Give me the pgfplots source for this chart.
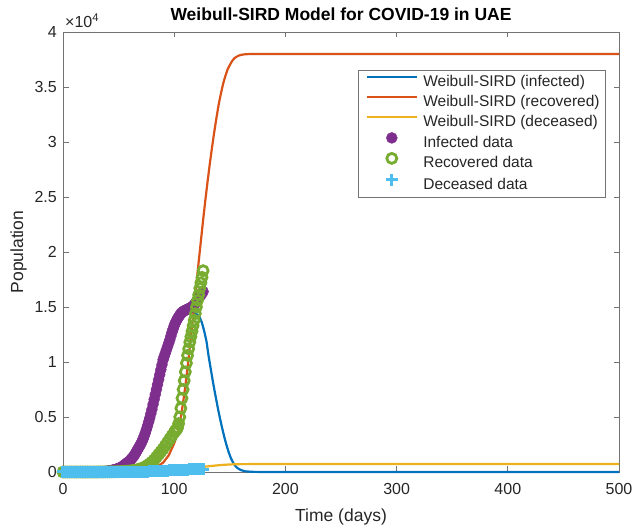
\documentclass[border=0pt]{standalone}
\usepackage{pgfplots}
\pgfplotsset{compat=1.18}
\usepackage{fontspec}
\setmainfont{Liberation Sans}
\definecolor{mblue}{rgb}{0,0.447,0.741}
\definecolor{morange}{rgb}{0.85,0.325,0.098}
\definecolor{myellow}{rgb}{0.929,0.694,0.125}
\definecolor{mpurple}{rgb}{0.494,0.184,0.556}
\definecolor{mgreen}{rgb}{0.466,0.674,0.188}
\definecolor{mcyan}{rgb}{0.301,0.745,0.933}
\definecolor{axgray}{rgb}{0.45,0.45,0.45}
\definecolor{txt}{rgb}{0.15,0.15,0.15}
\pgfplotsset{
  lineleg/.style={legend image code/.code={\path (-6pt,5.5pt) (50pt,5.5pt); \draw[##1] (0pt,5.5pt) -- (50pt,5.5pt);}},
  markleg/.style={legend image code/.code={\path (-6pt,5.5pt) (50pt,5.5pt); \draw[##1] plot coordinates {(25pt,5.5pt)};}},
}
\begin{document}
\begin{tikzpicture}
\begin{axis}[
  width=556pt, height=440pt, scale only axis,
  xmin=0, xmax=500, ymin=0, ymax=40000,
  clip=false,
  xtick={0,100,...,500},
  ytick={0,5000,...,40000},
  yticklabels={0,0.5,1,1.5,2,2.5,3,3.5,4},
  scaled y ticks=false,
  /pgf/number format/assume math mode=true,
  tick align=inside, tick pos=both, major tick length=5.5pt,
  axis line style={axgray, line width=0.8pt},
  tick style={axgray, line width=0.8pt},
  ticklabel style={font=\fontsize{16}{16}\selectfont, text=txt},
  xticklabel style={yshift=-8pt},
  yticklabel style={xshift=-2.7pt},
  xlabel={Time (days)},
  ylabel={Population},
  label style={font=\fontsize{17.5}{18}\selectfont, text=txt},
  xlabel style={at={(axis description cs:0.5,0)}, anchor=base, yshift=-50pt},
  ylabel style={at={(axis description cs:0,0.5)}, anchor=center, yshift=44.5pt},
  title={Weibull-SIRD Model for COVID-19 in UAE},
  title style={font=\bfseries\fontsize{17.5}{18}\selectfont, at={(axis description cs:0.5,1)}, anchor=base, yshift=5pt},
  legend cell align=left,
  legend style={at={(axis description cs:1,1)}, anchor=north east, xshift=-13pt, yshift=-38pt,
    draw=axgray, line width=0.8pt, font=\fontsize{15.5}{16}\selectfont, text=txt,
    inner xsep=1pt, inner ysep=2pt, row sep=0pt,
    nodes={inner xsep=5pt, inner ysep=1.5pt, text height=12.5pt, text depth=4.5pt}},
]
% model curves
\addplot[mblue, line width=2.2pt, mark=none, lineleg] coordinates {
(0,0) (10,0) (20,2) (30,15) (35,45) (40,100) (45,200) (50,380) (55,650) (60,1050)
(65,1650) (70,2500) (75,3700) (80,5300) (85,7200) (90,9300) (95,11200) (100,12800)
(105,13900) (110,14400) (114,14600) (118,14500) (121,14300) (123,14050) (125,13550)
(127,12800) (129,11900) (131,10500) (133,9300) (135,8100) (137,7000) (139,5950)
(141,4950) (143,4050) (145,3200) (147,2450) (149,1800) (151,1250) (153,850) (155,550)
(157,350) (160,170) (164,60) (170,15) (180,2) (190,0) (500,0)};
\addlegendentry{Weibull-SIRD (infected)}
\addplot[morange, line width=2.2pt, mark=none, lineleg] coordinates {
(0,0) (40,0) (50,5) (60,25) (70,90) (80,300) (85,500) (90,850) (95,1500) (100,2600)
(103,3600) (106,5000) (108,6300) (110,7800) (112,9500) (114,11300) (116,13200)
(118,15100) (120,17100) (122,19100) (124,21000) (126,22900) (128,24700) (130,26400)
(132,28000) (134,29500) (136,30900) (138,32200) (140,33400) (142,34400) (144,35300)
(146,36000) (148,36600) (150,37000) (152,37350) (154,37600) (156,37750) (158,37850)
(160,37920) (164,37980) (170,38000) (500,38000)};
\addlegendentry{Weibull-SIRD (recovered)}
\addplot[myellow, line width=2.2pt, mark=none, lineleg] coordinates {
(0,0) (40,3) (50,10) (60,25) (70,50) (80,90) (90,145) (100,215) (110,300) (115,345)
(120,395) (125,450) (130,510) (135,565) (140,615) (145,655) (150,685) (155,705)
(160,715) (170,720) (500,720)};
\addlegendentry{Weibull-SIRD (deceased)}
% data
\addplot[only marks, mark=*, mark size=5.5pt, draw=mpurple, fill=mpurple, line width=0.4pt, markleg] coordinates {
(0,0) (2,0) (4,0) (6,0) (8,0) (10,0) (12,0) (14,0) (16,0) (18,0) (20,0) (22,0) (24,0)
(26,0) (28,5) (30,10) (32,15) (34,25) (36,40) (38,60)
(40,80) (41,95) (42,110) (43,130) (44,150) (45,175) (46,200) (47,230) (48,260) (49,295)
(50,330) (51,375) (52,420) (53,480) (54,540) (55,620) (56,700) (57,775) (58,850) (59,925)
(60,1000) (61,1120) (62,1250) (63,1370) (64,1500) (65,1670) (66,1850) (67,2020) (68,2200) (69,2370)
(70,2550) (71,2770) (72,3000) (73,3270) (74,3550) (75,3870) (76,4200) (77,4550) (78,4900) (79,5300)
(80,5700) (81,6150) (82,6600) (83,7050) (84,7500) (85,7950) (86,8400) (87,8850) (88,9300) (89,9750)
(90,10200) (91,10500) (92,10800) (93,11100) (94,11400) (95,11700) (96,12000) (97,12350) (98,12700) (99,13000)
(100,13300) (101,13550) (102,13750) (103,13950) (104,14100) (105,14250) (106,14400) (107,14500) (108,14600) (109,14650)
(110,14700) (111,14750) (112,14800) (113,14850) (114,14900) (115,14950) (116,15000) (117,15100) (118,15200) (119,15350)
(120,15500) (121,15650) (122,15800) (123,15950) (124,16100) (125,16250) (126,16400)};
\addlegendentry{Infected data}
\addplot[only marks, mark=o, mark size=5pt, draw=mgreen, line width=2.8pt, markleg] coordinates {
(0,0) (2,0) (4,0) (6,0) (8,0) (10,0) (12,0) (14,0) (16,0) (18,0) (20,0) (22,0) (24,0)
(26,0) (28,0) (30,0) (32,2) (34,4) (36,6) (38,8) (40,10) (42,13) (44,16) (46,19)
(48,24) (50,30) (52,38) (54,48) (56,60) (58,75) (60,90) (62,120) (64,150) (66,190)
(68,240) (70,300) (72,380) (74,480) (76,600) (78,750) (80,900) (82,1100) (84,1350)
(86,1600) (88,1850) (90,2100) (92,2400) (94,2700) (96,3000) (98,3300) (100,3600)
(101,3750) (102,3850) (103,4000) (104,4400) (105,5000) (106,5800) (107,6700)
(108,7500) (109,8300) (110,9100) (111,9900) (112,10600) (113,11200) (114,11800)
(115,12300) (116,12800) (117,13300) (118,13800) (119,14400) (120,15000) (121,15600)
(122,16100) (123,16700) (124,17200) (125,17700) (126,18300)};
\addlegendentry{Recovered data}
\addplot[only marks, mark=+, mark size=6pt, draw=mcyan, line width=3pt, markleg] coordinates {
(0,0) (2,0) (4,0) (6,0) (8,0) (10,0) (12,0) (14,0) (16,0) (18,0) (20,0) (22,0) (24,0)
(26,0) (28,0) (30,0) (32,0) (34,0) (36,0) (38,0) (40,0) (42,0) (44,0) (46,0) (48,0)
(50,1) (52,2) (54,4) (56,6) (58,8) (60,10) (62,12) (64,15) (66,18) (68,22) (70,26)
(72,31) (74,37) (76,44) (78,52) (80,60) (82,70) (84,80) (86,90) (88,100) (90,110)
(92,120) (94,131) (96,142) (98,153) (100,165) (102,177) (104,188) (106,198) (108,207)
(110,215) (112,222) (114,229) (116,235) (118,241) (120,247) (122,253) (124,259) (126,264)};
\addlegendentry{Deceased data}
\node[anchor=base west, font=\fontsize{16}{16}\selectfont, text=txt, inner sep=0pt]
  at (axis description cs:0,1) [xshift=2pt, yshift=4pt] {×10\textsuperscript{4}};
\end{axis}
\pgfresetboundingbox
\path (-63pt,-57pt) rectangle (571pt,472pt);
\end{tikzpicture}
\end{document}
